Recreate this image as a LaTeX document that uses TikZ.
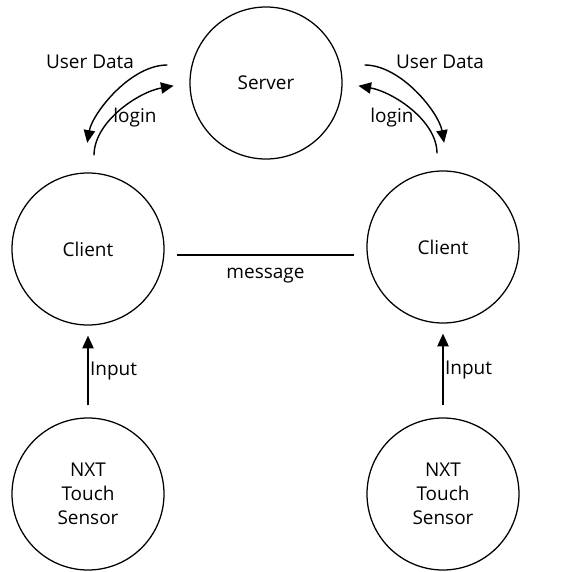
\documentclass[tikz,border=0pt]{standalone}
\usepackage{fontspec}
\setmainfont{Open Sans}
\usetikzlibrary{arrows.meta}
\tikzset{bubble/.style = {draw, circle, line width = 0.9, minimum size = 3.8cm, align = center, inner sep = 0}}
\tikzset{flow/.style = {-{Triangle[length = 9pt, width = 8pt]}, line width = 1}}

\begin{document}
\begin{tikzpicture}[font = \fontsize{13.5}{17}\selectfont]
\useasboundingbox (0,0) rectangle (14.625,14.275);
\node (srv) at (6.65, 12.2) [bubble] {Server};
\node (cl) at (2.2, 8.05) [bubble] {Client};
\node (cr) at (11.075, 8.1) [bubble] {Client};
\node (nl) at (2.2, 1.925) [bubble] {NXT\\Touch\\Sensor};
\node (nr) at (11.075, 1.925) [bubble] {NXT\\Touch\\Sensor};
% client to client
\draw [line width = 1, shorten <= 0.3cm, shorten >= 0.3cm] ([yshift = -0.15cm]cl.east) -- ([yshift = -0.2cm]cr.west) node (msg) [midway, below = 0.2cm] {message};
% sensors
\foreach \n/\c in {nl/cl, nr/cr}
\draw [flow, shorten <= 0.3cm, shorten >= 0.25cm] (\n) -- (\c) node (in\n) [midway, right, inner sep = 1pt] {Input};
% left client and server
\draw [flow, shorten <= 0.425cm, shorten >= 0.4cm] ([xshift = 0.15cm]cl.north) to [out = 90, in = 190] (srv.west);
\draw [flow, shorten <= 0.55cm, shorten >= 0.75cm] ([yshift = 0.45cm]srv.west) to [out = 180, in = 80] ([xshift = -0.15cm]cl.north);
\node (lgl) at (3.375, 11.325) {login};
\node (udl) at (2.25, 12.725) {User Data};
% right client and server
\draw [flow, shorten <= 0.425cm, shorten >= 0.4cm] ([xshift = -0.15cm]cr.north) to [out = 90, in = -10] (srv.east);
\draw [flow, shorten <= 0.55cm, shorten >= 0.7cm] ([yshift = 0.45cm]srv.east) to [out = 0, in = 100] ([xshift = 0.15cm]cr.north);
\node (lgr) at (9.8, 11.325) {login};
\node (udr) at (11.0, 12.725) {User Data};
\end{tikzpicture}
\end{document}
